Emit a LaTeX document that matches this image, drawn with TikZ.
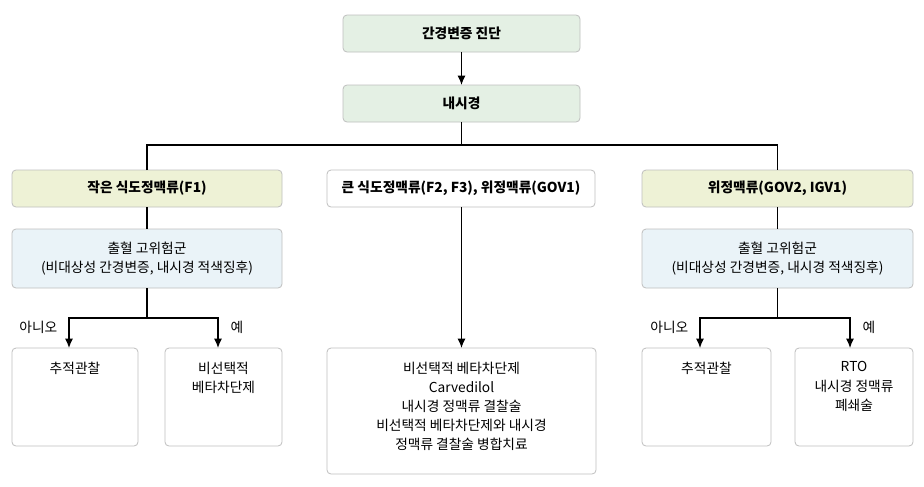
\documentclass[tikz,border=0pt]{standalone}
\usepackage{fontspec}
\setmainfont{Noto Sans CJK KR}
\usetikzlibrary{arrows.meta}
\definecolor{cg}{RGB}{228,240,228}
\definecolor{cy}{RGB}{238,242,214}
\definecolor{cb}{RGB}{234,243,248}
\begin{document}
\begin{tikzpicture}[x=0.75pt,y=-0.75pt,
 box/.style={draw=black!25,rounded corners=3pt,line width=0.6pt},
 gbox/.style={box,fill=cg},
 ybox/.style={box,fill=cy},
 bbox/.style={box,fill=cb},
 wbox/.style={box,fill=white},
 t/.style={font=\fontsize{10.3}{14.3}\selectfont,align=center},
 tb/.style={font=\bfseries\fontsize{10.3}{14.3}\selectfont,align=center},
 arr/.style={-{Latex[length=7pt,width=6pt]},line width=0.9pt},
 ln/.style={line width=0.9pt}]
\useasboundingbox (0,0) rectangle (924,486);
\fill[white] (0,0) rectangle (924,486);
\path[gbox] (343,15) rectangle (580,52);
\node[tb] (a) at (461.5,33.5) {간경변증 진단};
\path[gbox] (343,85) rectangle (580,122);
\node[tb] (b) at (461.5,103.5) {내시경};
\path[ybox] (12,170) rectangle (282,207);
\path[wbox] (327,170) rectangle (595,207);
\path[ybox] (642,170) rectangle (913,207);
\node[tb] (c1) at (147,188.5) {작은 식도정맥류(F1)};
\node[tb] (c2) at (461,188.5) {큰 식도정맥류(F2, F3), 위정맥류(GOV1)};
\node[tb] (c3) at (777.5,188.5) {위정맥류(GOV2, IGV1)};
\path[bbox] (12,229) rectangle (282,288);
\path[bbox] (642,229) rectangle (913,288);
\node[t] (d1) at (147,258.5) {출혈 고위험군\\(비대상성 간경변증, 내시경 적색징후)};
\node[t] (d3) at (777.5,258.5) {출혈 고위험군\\(비대상성 간경변증, 내시경 적색징후)};
\foreach \x/\xx in {12/138,165/282,642/771,795/913}
  \path[wbox] (\x,348) rectangle (\xx,446);
\path[wbox] (327,348) rectangle (596,474);
\node[t,anchor=north] (e1) at (75,357) {추적관찰};
\node[t,anchor=north] (e2) at (223.5,357) {비선택적\\베타차단제};
\node[t,anchor=north] (e3) at (461.5,357) {비선택적 베타차단제\\Carvedilol\\내시경 정맥류 결찰술\\비선택적 베타차단제와 내시경\\정맥류 결찰술 병합치료};
\node[t,anchor=north] (e4) at (706.5,357) {추적관찰};
\node[t,anchor=north] (e5) at (854,357) {RTO\\내시경 정맥류\\폐쇄술};
\draw[arr] (461.5,52) -- (461.5,85);
\draw[ln] (461.5,122) -- (461.5,145);
\draw[ln] (147,170) -- (147,145) -- (777.5,145) -- (777.5,170);
\draw[arr] (461.5,207) -- (461.5,348);
\draw[ln] (147,207) -- (147,229);
\draw[ln] (777.5,207) -- (777.5,229);
\draw[ln] (147,288) -- (147,318);
\draw[arr] (147,318) -| (69,348);
\draw[arr] (147,318) -| (218,348);
\draw[ln] (777.5,288) -- (777.5,318);
\draw[arr] (777.5,318) -| (700,348);
\draw[arr] (777.5,318) -| (850,348);
\node[t,anchor=east] (n1) at (62,327) {아니오};
\node[t,anchor=west] (y1) at (226,327) {예};
\node[t,anchor=east] (n2) at (693,327) {아니오};
\node[t,anchor=west] (y2) at (858,327) {예};
\end{tikzpicture}
\end{document}
